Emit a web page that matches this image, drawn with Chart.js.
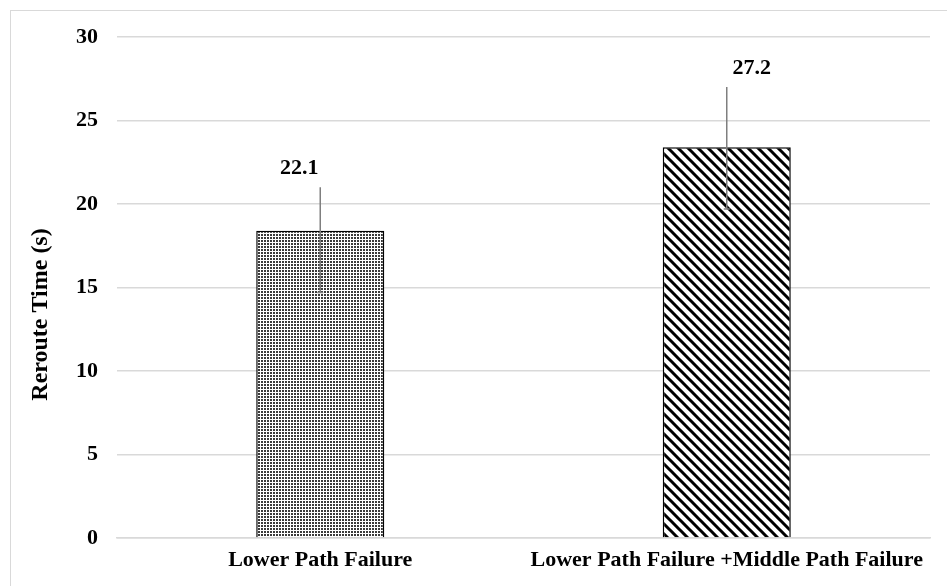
<!DOCTYPE html>
<html>
<head>
<meta charset="utf-8">
<script src="https://cdn.jsdelivr.net/npm/chart.js@4"></script>
<style>
  html, body { margin: 0; padding: 0; background: #fff; overflow: hidden; }
  #frame {
    position: absolute; left: 10px; top: 10px;
    width: 1000px; height: 700px;
    border: 1px solid #d9d9d9;
  }
  #rerouteChart { position: absolute; left: 0; top: 0; }
</style>
</head>
<body>
<div id="frame"></div>
<canvas id="rerouteChart" width="947" height="586"></canvas>
<script>
const categories = ["Lower Path Failure", "Lower Path Failure +Middle Path Failure"];
const rerouteTimes = [18.4, 23.4];
const errorLow = [14.7, 19.7];
const errorHigh = [21.0, 27.0];
const valueLabels = ["22.1", "27.2"];
const yTicks = [0, 5, 10, 15, 20, 25, 30];
const yTitle = "Reroute Time (s)";

const serif = "'Liberation Serif', 'Times New Roman', serif";

// dotted fill for first bar
function dotPattern() {
  const c = document.createElement("canvas");
  c.width = 3; c.height = 3;
  const g = c.getContext("2d");
  g.fillStyle = "#fff";
  g.fillRect(0, 0, 3, 3);
  g.fillStyle = "#3a3a3a";
  g.fillRect(0, 0, 2, 2);
  return g.createPattern(c, "repeat");
}

// "\" stripes for second bar
function stripePattern() {
  const s = 10;
  const c = document.createElement("canvas");
  c.width = s; c.height = s;
  const g = c.getContext("2d");
  g.fillStyle = "#fff";
  g.fillRect(0, 0, s, s);
  g.strokeStyle = "#000";
  g.lineWidth = 3;
  g.beginPath();
  g.moveTo(-s, 0); g.lineTo(s, 2 * s);
  g.moveTo(0, 0); g.lineTo(s, s);
  g.moveTo(0, -s); g.lineTo(2 * s, s);
  g.stroke();
  return g.createPattern(c, "repeat");
}

const errorBarsAndLabels = {
  id: "errorBarsAndLabels",
  afterDatasetsDraw(chart) {
    const ctx = chart.ctx;
    const y = chart.scales.y;
    const meta = chart.getDatasetMeta(0);
    const labelShift = [-21, 25];
    ctx.save();
    meta.data.forEach((bar, i) => {
      const top = y.getPixelForValue(errorHigh[i]);
      const bottom = y.getPixelForValue(errorLow[i]);
      ctx.strokeStyle = "#7f7f7f";
      ctx.lineWidth = 1.5;
      ctx.beginPath();
      ctx.moveTo(bar.x, top);
      ctx.lineTo(bar.x, bottom);
      ctx.moveTo(bar.x - 3, bottom);
      ctx.lineTo(bar.x + 3, bottom);
      ctx.stroke();

      ctx.fillStyle = "#000";
      ctx.font = "bold 22px " + serif;
      ctx.textAlign = "center";
      ctx.textBaseline = "middle";
      ctx.fillText(valueLabels[i], bar.x + labelShift[i], top - 19);
    });

    // axis title, sits a bit below the middle of the plot like the original
    const area = chart.chartArea;
    ctx.translate(41, (area.top + area.bottom) / 2 + 27);
    ctx.rotate(-Math.PI / 2);
    ctx.font = "bold 24px " + serif;
    ctx.textAlign = "center";
    ctx.textBaseline = "middle";
    ctx.fillStyle = "#000";
    ctx.fillText(yTitle, 0, 0);
    ctx.restore();
  }
};

new Chart(document.getElementById("rerouteChart"), {
  type: "bar",
  data: {
    labels: categories,
    datasets: [{
      label: "Reroute Time",
      data: rerouteTimes,
      backgroundColor: [dotPattern(), stripePattern()],
      borderColor: "#000",
      borderWidth: 1.5,
      categoryPercentage: 1,
      barPercentage: 0.315
    }]
  },
  options: {
    responsive: false,
    animation: false,
    devicePixelRatio: 1,
    layout: { padding: { left: 0, right: 17, top: 37, bottom: 0 } },
    plugins: {
      legend: { display: false },
      tooltip: { enabled: false }
    },
    scales: {
      x: {
        grid: { display: false, drawTicks: false },
        border: { display: true, color: "#d9d9d9", width: 1.5 },
        ticks: {
          padding: 9,
          color: "#000",
          font: { family: serif, size: 22, weight: "bold" },
          maxRotation: 0,
          autoSkip: false
        },
        afterFit(scale) { scale.height = 48; }
      },
      y: {
        min: 0,
        max: 30,
        afterBuildTicks(scale) { scale.ticks = yTicks.map(v => ({ value: v })); },
        grid: { color: "#d9d9d9", lineWidth: 1.5, drawTicks: false },
        border: { display: false },
        ticks: {
          padding: 19,
          color: "#000",
          autoSkip: false,
          font: { family: serif, size: 22, weight: "bold" }
        },
        afterFit(scale) { scale.width = 117; }
      }
    }
  },
  plugins: [errorBarsAndLabels]
});
</script>
</body>
</html>
